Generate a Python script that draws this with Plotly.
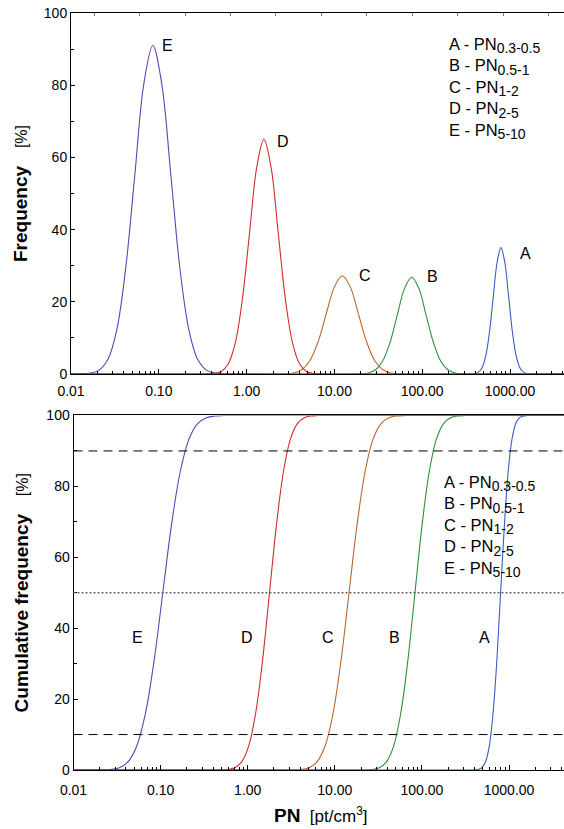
import plotly.graph_objects as go

FONT = "Liberation Sans, Arial, sans-serif"

# ---------------- data ----------------
series_names = ["A", "B", "C", "D", "E"]
legend_subs = ["0.3-0.5", "0.5-1", "1-2", "2-5", "5-10"]
colors = {"A": "#3d5cc4", "B": "#2e8f40", "C": "#b8672e", "D": "#d22c2c", "E": "#6a3fb2"}

tick_values = [0.01, 0.1, 1, 10, 100, 1000]
tick_labels = ["0.01", "0.10", "1.00", "10.00", "100.00", "1000.00"]

# Frequency [%] vs log10(PN)
freq_logpn_A = [-2.0, 2.545, 2.589, 2.633, 2.677, 2.721, 2.765, 2.809, 2.853, 2.897, 2.941, 2.985, 3.029, 3.073, 3.117, 3.161, 3.205, 3.249, 3.62]
freq_pct_A = [0, 0.01, 0.08, 0.39, 1.54, 4.74, 11.36, 21.23, 30.89, 35.0, 30.89, 21.23, 11.36, 4.74, 1.54, 0.39, 0.08, 0.01, 0]
freq_logpn_B = [-2.0, 1.220, 1.303, 1.385, 1.468, 1.550, 1.633, 1.715, 1.798, 1.880, 1.963, 2.045, 2.128, 2.210, 2.293, 2.375, 2.458, 2.540, 3.62]
freq_pct_B = [0, 0.01, 0.06, 0.30, 1.18, 3.63, 8.70, 16.25, 23.65, 26.8, 23.65, 16.25, 8.70, 3.63, 1.18, 0.30, 0.06, 0.01, 0]
freq_logpn_C = [-2.0, 0.350, 0.443, 0.535, 0.628, 0.720, 0.813, 0.905, 0.998, 1.090, 1.183, 1.275, 1.368, 1.460, 1.553, 1.645, 1.738, 1.830, 3.62]
freq_pct_C = [0, 0.01, 0.06, 0.30, 1.20, 3.68, 8.83, 16.50, 24.00, 27.2, 24.00, 16.50, 8.83, 3.68, 1.20, 0.30, 0.06, 0.01, 0]
freq_logpn_D = [-2.0, -0.451, -0.370, -0.289, -0.208, -0.127, -0.046, 0.035, 0.116, 0.197, 0.278, 0.359, 0.440, 0.521, 0.602, 0.683, 0.764, 0.845, 3.62]
freq_pct_D = [0, 0.02, 0.14, 0.72, 2.86, 8.80, 21.10, 39.42, 57.36, 65.0, 57.36, 39.42, 21.10, 8.80, 2.86, 0.72, 0.14, 0.02, 0]
freq_logpn_E = [-2.0, -1.888, -1.786, -1.683, -1.581, -1.478, -1.376, -1.273, -1.171, -1.068, -0.966, -0.863, -0.761, -0.658, -0.556, -0.453, -0.351, -0.248, 3.62]
freq_pct_E = [0, 0.03, 0.20, 1.01, 4.00, 12.32, 29.54, 55.19, 80.31, 91.0, 80.31, 55.19, 29.54, 12.32, 4.00, 1.01, 0.20, 0.03, 0]

# Cumulative frequency [%] vs log10(PN)
cum_logpn_A = [-2.0, 2.555, 2.599, 2.642, 2.686, 2.729, 2.773, 2.816, 2.860, 2.903, 2.947, 2.990, 3.034, 3.077, 3.121, 3.164, 3.208, 3.251, 3.64]
cum_pct_A = [0, 0.003, 0.02, 0.13, 0.62, 2.28, 6.68, 15.87, 30.85, 50.0, 69.15, 84.13, 93.32, 97.72, 99.38, 99.87, 99.98, 100.0, 100.0]
cum_logpn_B = [-2.0, 1.264, 1.346, 1.428, 1.510, 1.592, 1.674, 1.756, 1.838, 1.920, 2.002, 2.084, 2.166, 2.248, 2.330, 2.412, 2.494, 2.576, 3.64]
cum_pct_B = [0, 0.003, 0.02, 0.13, 0.62, 2.28, 6.68, 15.87, 30.85, 50.0, 69.15, 84.13, 93.32, 97.72, 99.38, 99.87, 99.98, 100.0, 100.0]
cum_logpn_C = [-2.0, 0.427, 0.519, 0.611, 0.703, 0.795, 0.887, 0.979, 1.071, 1.163, 1.255, 1.347, 1.439, 1.531, 1.623, 1.715, 1.807, 1.899, 3.64]
cum_pct_C = [0, 0.003, 0.02, 0.13, 0.62, 2.28, 6.68, 15.87, 30.85, 50.0, 69.15, 84.13, 93.32, 97.72, 99.38, 99.87, 99.98, 100.0, 100.0]
cum_logpn_D = [-2.0, -0.390, -0.310, -0.230, -0.150, -0.070, 0.010, 0.090, 0.170, 0.250, 0.330, 0.410, 0.490, 0.570, 0.650, 0.730, 0.810, 0.890, 3.64]
cum_pct_D = [0, 0.003, 0.02, 0.13, 0.62, 2.28, 6.68, 15.87, 30.85, 50.0, 69.15, 84.13, 93.32, 97.72, 99.38, 99.87, 99.98, 100.0, 100.0]
cum_logpn_E = [-2.0, -1.775, -1.675, -1.575, -1.475, -1.375, -1.275, -1.175, -1.075, -0.975, -0.875, -0.775, -0.675, -0.575, -0.475, -0.375, -0.275, -0.175, 3.64]
cum_pct_E = [0, 0.003, 0.02, 0.13, 0.62, 2.28, 6.68, 15.87, 30.85, 50.0, 69.15, 84.13, 93.32, 97.72, 99.38, 99.87, 99.98, 100.0, 100.0]

cum_ref_levels = [10, 90]
cum_median_level = 50

freq_data = {"A": (freq_logpn_A, freq_pct_A), "B": (freq_logpn_B, freq_pct_B), "C": (freq_logpn_C, freq_pct_C),
             "D": (freq_logpn_D, freq_pct_D), "E": (freq_logpn_E, freq_pct_E)}
cum_data = {"A": (cum_logpn_A, cum_pct_A), "B": (cum_logpn_B, cum_pct_B), "C": (cum_logpn_C, cum_pct_C),
            "D": (cum_logpn_D, cum_pct_D), "E": (cum_logpn_E, cum_pct_E)}

# ---------------- figure ----------------
fig = go.Figure()
for n in series_names:
    lx, ly = freq_data[n]
    fig.add_trace(go.Scatter(x=[10 ** v for v in lx], y=ly, mode="lines", line=dict(color=colors[n], width=1.1, shape="spline"),
                             xaxis="x", yaxis="y", hoverinfo="skip"))
for n in series_names:
    lx, ly = cum_data[n]
    fig.add_trace(go.Scatter(x=[10 ** v for v in lx], y=ly, mode="lines", line=dict(color=colors[n], width=1.1, shape="spline"),
                             xaxis="x2", yaxis="y2", hoverinfo="skip"))
# dummy trace for the top tick axis
fig.add_trace(go.Scatter(x=[None], y=[None], xaxis="x3", yaxis="y", hoverinfo="skip"))

minor_x = [k * 10 ** d for d in range(-2, 4) for k in range(2, 10)]
tickfont = dict(family=FONT, size=14, color="black")

xcommon = dict(type="log", tickmode="array", tickvals=tick_values, ticktext=tick_labels, ticks="inside", ticklen=5,
               tickcolor="black", showline=True, linecolor="black", linewidth=1, showgrid=False, zeroline=False,
               automargin=False, tickfont=tickfont,
               minor=dict(tickvals=minor_x, ticks="inside", ticklen=3, tickcolor="black", showgrid=False))
ycommon = dict(range=[0, 100], tickmode="array", tickvals=[0, 20, 40, 60, 80, 100], ticks="inside", ticklen=4,
               tickcolor="black", showline=True, linecolor="black", linewidth=1, showgrid=False, zeroline=False,
               automargin=False, tickfont=tickfont,
               minor=dict(dtick=10, ticks="inside", ticklen=3, tickcolor="black", showgrid=False))

fig.update_layout(
    width=564, height=829,
    margin=dict(l=71, r=0, t=13, b=59, autoexpand=False),
    plot_bgcolor="white", paper_bgcolor="white", showlegend=False,
    font=dict(family=FONT, color="black"),
    xaxis=dict(xcommon, domain=[0, 1], anchor="y", range=[-2, 3.615], ticklabelstandoff=4),
    yaxis=dict(ycommon, domain=[0.5231, 1], anchor="x"),
    xaxis2=dict(xcommon, domain=[0.0051, 1], anchor="y2", range=[-2, 3.631], mirror=True, ticklabelstandoff=7),
    yaxis2=dict(ycommon, domain=[0, 0.4683], anchor="x2"),
    xaxis3=dict(overlaying="x", anchor="y", side="top", range=[-0.5055, 10.33], tickmode="linear", tick0=0, dtick=1,
                ticks="inside", ticklen=3, tickcolor="#777", showticklabels=False, showline=True, linecolor="black",
                showgrid=False, zeroline=False, automargin=False),
)

shapes = []
for lv in cum_ref_levels:
    shapes.append(dict(type="line", xref="x2 domain", x0=0, x1=1, yref="y2", y0=lv, y1=lv,
                       line=dict(color="black", width=1, dash="9px,6px")))
shapes.append(dict(type="line", xref="x2 domain", x0=0, x1=1, yref="y2", y0=cum_median_level, y1=cum_median_level,
                   line=dict(color="#666", width=1.5, dash="2px,2px")))
fig.update_layout(shapes=shapes)

ann = []
# letters near peaks (top)
top_shift = {"A": (25, 6), "B": (21, -1), "C": (23, 0), "D": (19, 2), "E": (15, 0)}
for n in series_names:
    lx, ly = freq_data[n]
    i = ly.index(max(ly))
    ann.append(dict(x=lx[i], y=ly[i], xref="x", yref="y", text=n, showarrow=False, xanchor="center", yanchor="middle",
                    xshift=top_shift[n][0], yshift=-top_shift[n][1], font=dict(size=16, family=FONT)))
# letters near curves (bottom)
bot_shift = {"A": -16, "B": -20, "C": -21, "D": -23, "E": -25}
for n in series_names:
    lx, ly = cum_data[n]
    i = ly.index(50.0)
    ann.append(dict(x=lx[i], y=37.5, xref="x2", yref="y2", text=n, showarrow=False, xanchor="center", yanchor="middle",
                    xshift=bot_shift[n], font=dict(size=16, family=FONT)))

legend_text = "<br>".join(f"{n} - PN<sub><span style='font-size:14px'>{s}</span></sub>" for n, s in zip(series_names, legend_subs))
ann.append(dict(x=0.763, y=0.9004, xref="paper", yref="paper", xanchor="left", yanchor="middle", align="left",
                text=legend_text, showarrow=False, font=dict(size=16.5, family=FONT)))
ann.append(dict(x=0.752, y=0.3214, xref="paper", yref="paper", xanchor="left", yanchor="middle", align="left",
                text=legend_text, showarrow=False, font=dict(size=16.5, family=FONT)))

# axis titles
GAP = "\u00a0\u00a0\u00a0\u00a0"
ann.append(dict(x=-0.1024, y=0.7616, xref="paper", yref="paper", textangle=-90, showarrow=False,
                xanchor="center", yanchor="middle",
                text=f"<b>Frequency</b><span style='font-size:16px'>{GAP}[%]</span>", font=dict(size=19, family=FONT)))
ann.append(dict(x=-0.100, y=0.2342, xref="paper", yref="paper", textangle=-90, showarrow=False,
                xanchor="center", yanchor="middle",
                text=f"<b>Cumulative frequency</b><span style='font-size:16px'>{GAP}[%]</span>", font=dict(size=19, family=FONT)))
ann.append(dict(x=0.508, y=-0.0594, xref="paper", yref="paper", showarrow=False, xanchor="center", yanchor="middle",
                text="<b>PN</b><span style='font-size:17px'>\u00a0\u00a0[pt/cm<sup>3</sup>]</span>", font=dict(size=19, family=FONT)))
fig.update_layout(annotations=ann)

fig.write_html("out.html", config={"displayModeBar": False, "staticPlot": True},
               post_script="document.body.style.margin='0';document.body.style.padding='0';document.body.style.overflow='hidden';")
